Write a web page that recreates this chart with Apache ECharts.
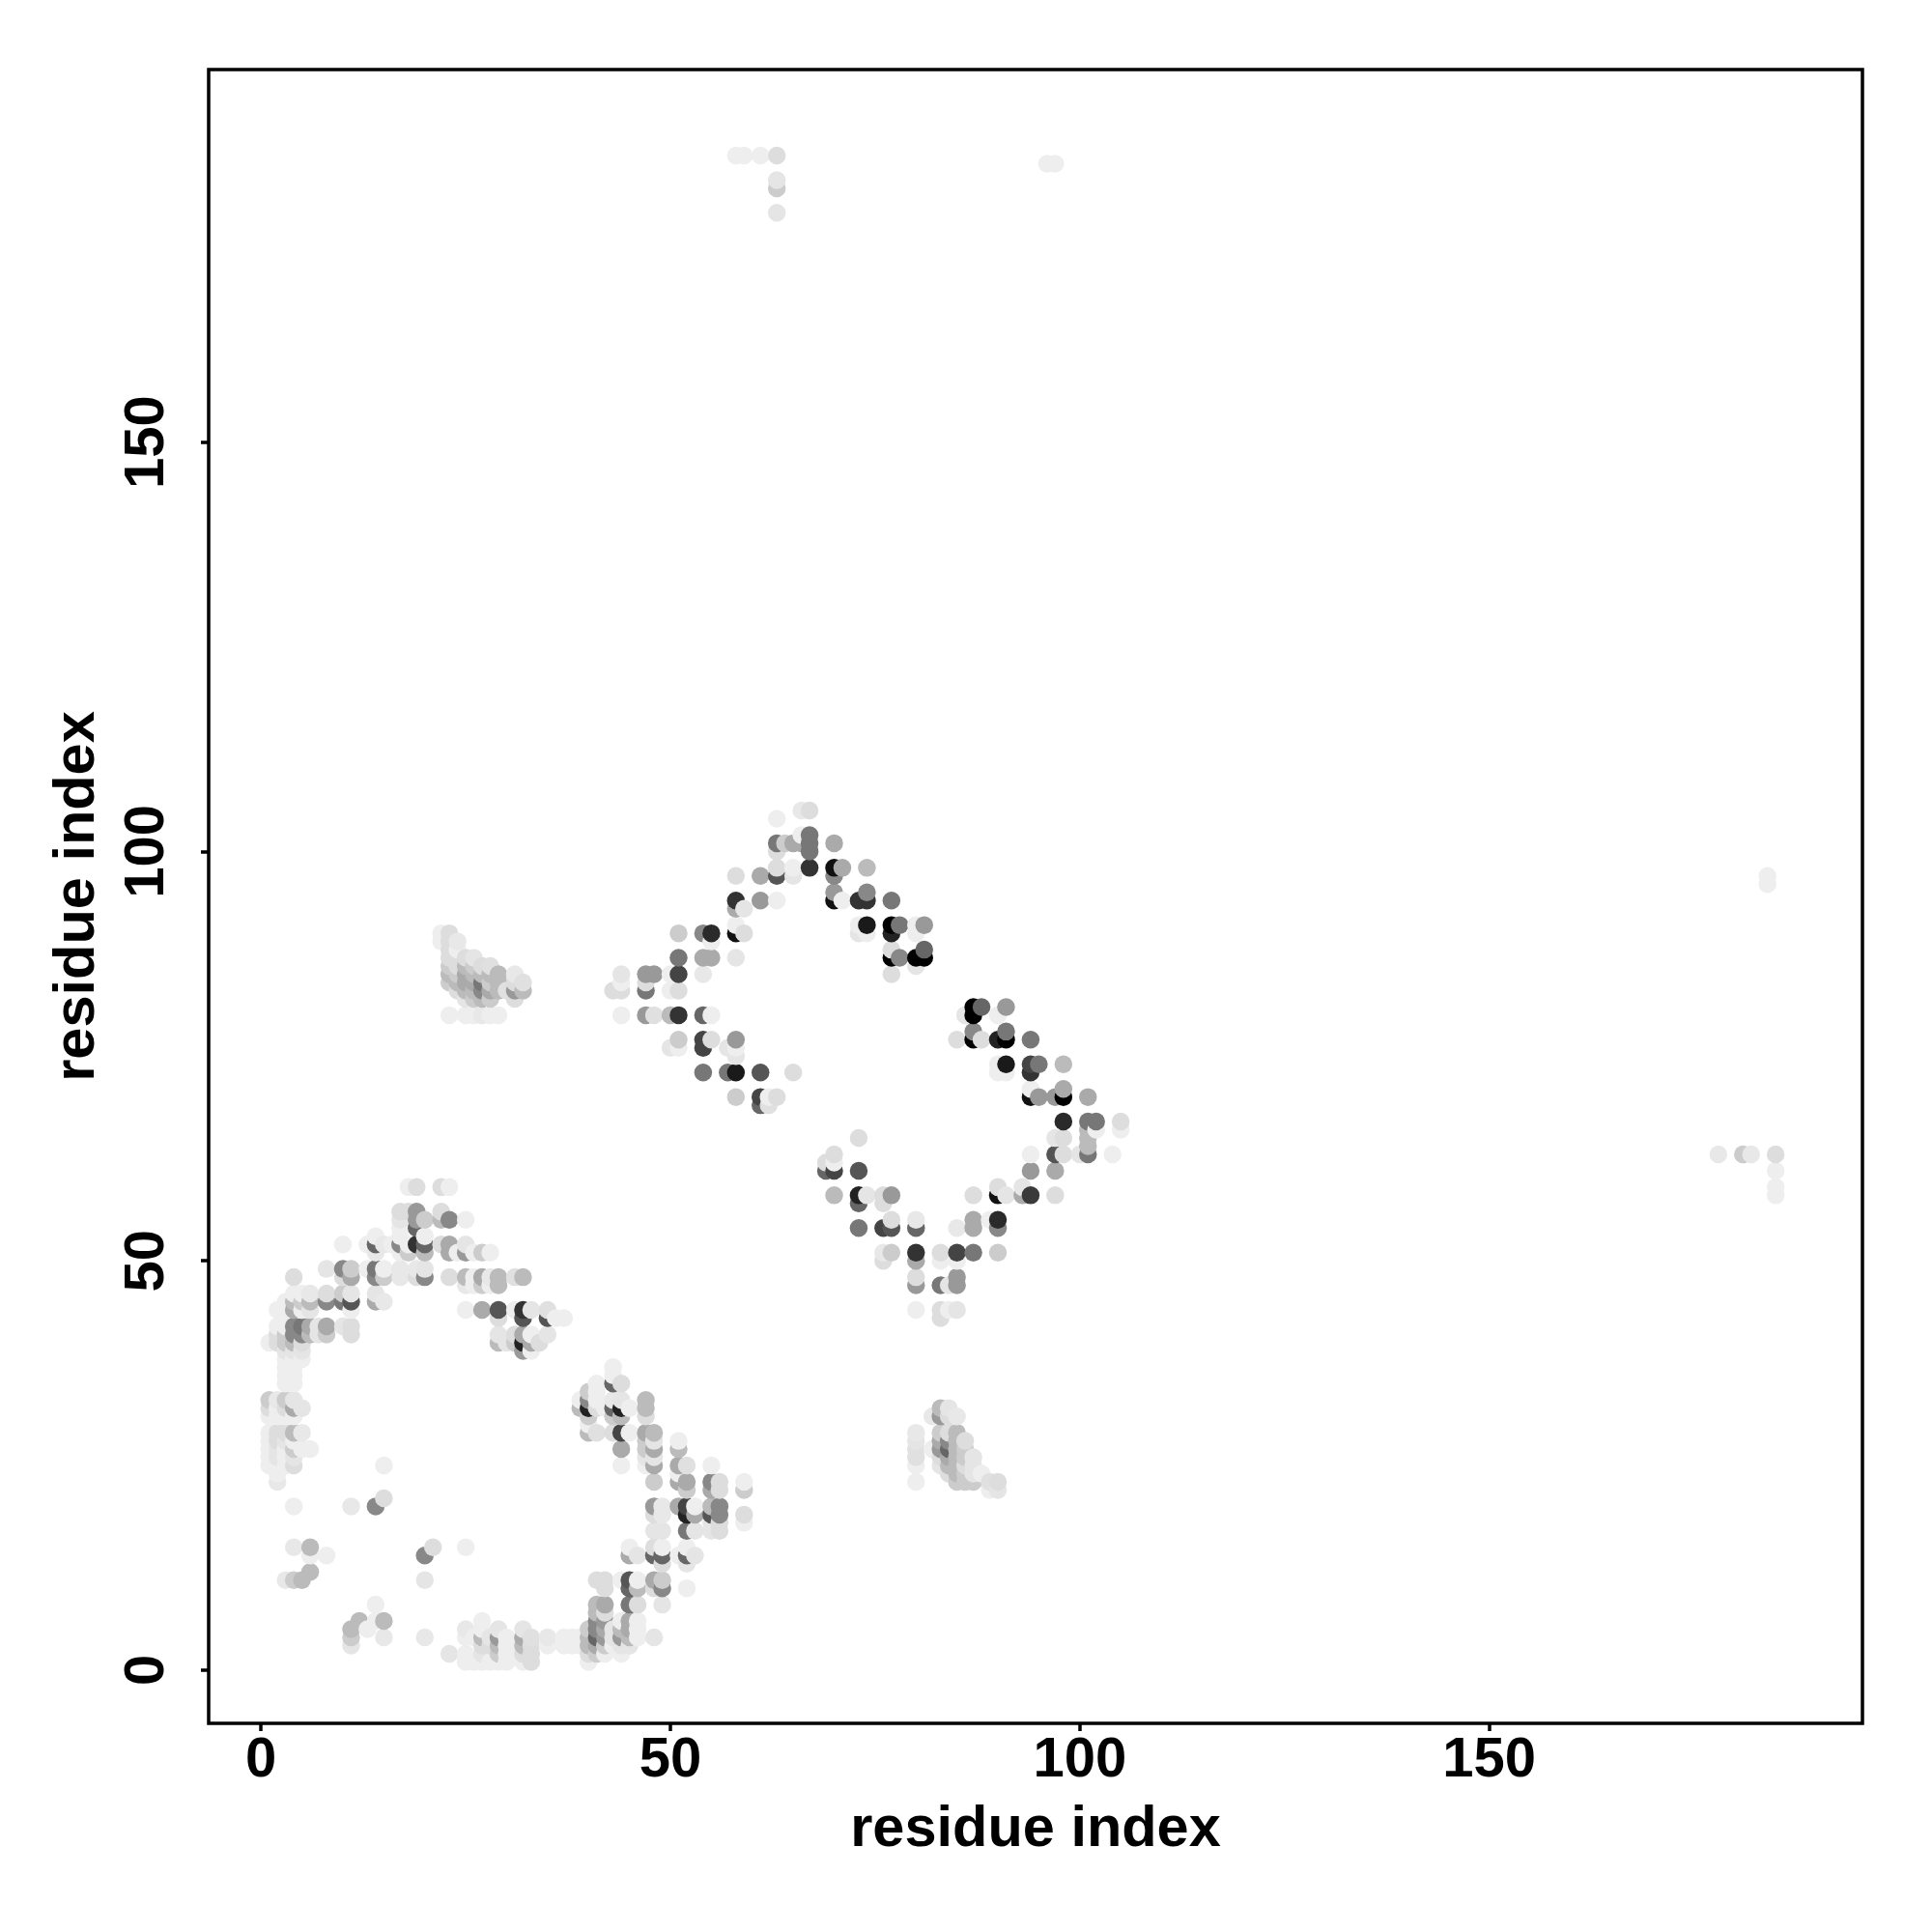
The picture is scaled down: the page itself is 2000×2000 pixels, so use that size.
<!DOCTYPE html>
<html><head><meta charset="utf-8">
<style>html,body{margin:0;padding:0;background:#fff}#c{width:2000px;height:2000px}</style>
<script src="https://cdn.jsdelivr.net/npm/echarts@6/dist/echarts.min.js"></script>
</head><body><div id="c"></div>
<script>
// each point: [residue x, residue y, grey level 0-255]
const tickValues = [0, 50, 100, 150];
const axisTitle = 'residue index';
const upperRing = [
[66,105,232],[67,105,221],[63,104,238],[67,102,119],[66,102,238],[63,101,119],[64,101,204],[65,101,170],[66,101,170],[67,101,119],[70,101,170],
[63,100,221],[67,100,119],[63,98,221],[65,98,238],[67,98,51],[70,98,17],[71,98,170],[74,98,187],[58,97,221],[61,97,170],[63,97,85],[65,97,229],[70,97,136],
[70,95,153],[74,95,136],[58,94,51],[61,94,153],[63,94,238],[70,94,17],[71,94,238],[73,94,51],[74,94,51],[77,94,119],[58,93,170],[59,93,229],
[58,91,238],[73,91,238],[74,91,26],[77,91,0],[78,91,119],[80,91,238],[81,91,153],[51,90,204],[54,90,136],[55,90,42],[58,90,17],[59,90,221],[73,90,229],[74,90,238],[77,90,34],[80,90,238],[55,89,238],
[77,88,221],[81,88,102],[51,87,119],[54,87,170],[55,87,170],[58,87,229],[77,87,0],[78,87,136],[80,87,0],[81,87,0],[80,86,229],
[44,85,229],[47,85,153],[48,85,153],[50,85,238],[51,85,68],[54,85,232],[77,85,221],[44,84,238],[47,84,221],[43,83,221],[44,83,221],[47,83,119],[50,83,238],[51,83,221],
[44,80,238],[47,80,153],[48,80,224],[50,80,187],[51,80,51],[54,80,102],[55,80,238],[51,77,204],[54,77,68],[55,77,221],[58,77,153],[50,76,229],[51,76,238],[54,76,68],[57,76,229],[58,76,238],[58,75,229],
[54,73,119],[57,73,119],[58,73,26],[61,73,85],[65,73,221],[58,70,204],[61,70,68],[62,70,238],[63,70,221],[61,69,102],[62,69,224]
];
const lowerRing = [
[87,81,0],[88,81,102],[91,81,153],[86,80,229],[87,80,0],[90,80,238],[87,78,136],[91,78,119],[85,77,221],[87,77,0],[88,77,221],[90,77,34],[91,77,0],[94,77,119],
[90,74,238],[91,74,26],[94,74,68],[95,74,119],[98,74,187],[90,73,238],[91,73,238],[94,73,51],[94,71,238],[98,71,170],[94,70,17],[95,70,153],[97,70,153],[98,70,0],[101,70,170],
[98,67,42],[101,67,119],[102,67,119],[105,67,221],[101,66,187],[102,66,238],[105,66,238],[73,65,221],[97,65,229],[98,65,221],[101,65,187],[101,64,187],
[70,63,221],[94,63,238],[97,63,85],[98,63,221],[100,63,229],[101,63,119],[104,63,238],[69,62,221],[70,62,238],[69,61,102],[70,61,68],[73,61,85],[94,61,153],[97,61,170],
[90,59,221],[93,59,229],[70,58,187],[73,58,34],[74,58,229],[76,58,221],[77,58,153],[87,58,221],[90,58,17],[91,58,229],[93,58,170],[94,58,58],[97,58,221],[73,57,102],[76,57,221],
[77,55,221],[80,55,232],[87,55,170],[89,55,238],[90,55,42],[73,54,119],[76,54,68],[77,54,85],[80,54,102],[85,54,232],[87,54,170],[90,54,136],
[76,51,232],[77,51,204],[80,51,51],[83,51,221],[85,51,68],[87,51,119],[90,51,204],[76,50,221],[80,50,170],[83,50,238],[85,50,238],
[80,48,221],[85,48,153],[80,47,153],[83,47,119],[84,47,229],[85,47,153],[80,44,238],[83,44,221],[84,44,238],[85,44,229],[83,43,221]
];
const upperPatch = [
[22,90,238],[23,90,221],[22,89,238],[23,89,221],[24,89,232],[23,88,221],[24,88,238],[23,87,221],[25,87,221],[26,87,229],
[23,86,204],[24,86,221],[25,86,187],[26,86,204],[27,86,221],[28,86,224],[23,85,187],[24,85,204],[25,85,170],[26,85,187],[27,85,187],[28,85,187],[29,85,187],[31,85,232],
[23,84,204],[24,84,187],[25,84,170],[26,84,170],[27,84,119],[28,84,204],[29,84,187],[31,84,221],[32,84,224],
[24,83,221],[25,83,187],[26,83,187],[27,83,136],[28,83,170],[29,83,187],[30,83,224],[31,83,153],[32,83,187],[25,82,229],[26,82,204],[27,82,187],[28,82,204],[31,82,221],
[23,80,238],[25,80,238],[26,80,238],[27,80,232],[28,80,238],[29,80,238]
];
const arc = [
[18,59,238],[19,59,221],[22,59,221],[23,59,238],[17,56,221],[18,56,221],[19,56,153],[22,56,221],[17,55,229],[19,55,153],[20,55,204],[22,55,187],[23,55,136],[25,55,238],[17,54,238],[19,54,102],
[14,53,238],[17,53,238],[20,53,238],[10,52,238],[13,52,238],[14,52,102],[15,52,232],[16,52,238],[17,52,136],[18,52,238],[19,52,51],[20,52,102],[22,52,221],[23,52,170],[25,52,229],
[14,51,232],[17,51,238],[18,51,204],[20,51,187],[23,51,170],[24,51,238],[25,51,153],[26,51,238],[27,51,204],[28,51,238],
[8,49,229],[10,49,136],[11,49,204],[13,49,238],[14,49,119],[15,49,238],[17,49,232],[19,49,232],[20,49,229],
[4,48,221],[10,48,221],[11,48,170],[14,48,136],[15,48,204],[17,48,232],[19,48,221],[20,48,136],[23,48,221],[25,48,187],[26,48,238],[27,48,170],[28,48,232],[29,48,187],[31,48,224],[32,48,187],
[25,47,232],[26,47,238],[27,47,204],[28,47,238],[29,47,187],[4,46,238],[5,46,238],[6,46,232],[8,46,221],[10,46,204],[11,46,229],[14,46,229],
[3,45,238],[4,45,187],[5,45,204],[6,45,187],[8,45,136],[10,45,119],[11,45,85],[14,45,170],[15,45,232],
[2,44,238],[3,44,238],[4,44,170],[5,44,238],[6,44,229],[11,44,238],[25,44,238],[27,44,170],[29,44,85],[31,44,238],[32,44,51],[33,44,229],[35,44,224],
[29,43,221],[32,43,85],[35,43,85],[36,43,238],[37,43,238],
[2,42,238],[3,42,238],[4,42,136],[5,42,119],[6,42,170],[7,42,229],[8,42,170],[10,42,229],[11,42,221],
[2,41,221],[3,41,204],[4,41,136],[5,41,136],[6,41,187],[7,41,229],[8,41,204],[11,41,221],[29,41,229],[31,41,221],[32,41,170],[33,41,238],[35,41,229],
[1,40,238],[2,40,221],[3,40,204],[4,40,187],[5,40,221],[29,40,187],[30,40,229],[31,40,204],[32,40,34],[33,40,170],[34,40,221],
[3,39,229],[4,39,229],[5,39,229],[32,39,153],[33,39,238],[3,38,238],[4,38,238],[5,38,238],[3,37,238],[4,37,238],[3,36,238],[4,36,238],[3,35,238],[4,35,238]
];
const leftColumn = [
[1,33,204],[2,33,232],[3,33,204],[4,33,229],[1,32,221],[2,32,238],[3,32,221],[4,32,170],[5,32,229],[1,31,238],[2,31,238],[3,31,238],[4,31,238],
[1,29,238],[2,29,221],[3,29,221],[4,29,187],[5,29,232],[1,28,238],[2,28,221],[3,28,229],[4,28,238],[1,27,238],[2,27,229],[3,27,238],[4,27,204],[5,27,238],[6,27,238],
[1,26,238],[2,26,229],[3,26,238],[4,26,229],[1,25,238],[2,25,238],[3,25,238],[4,25,221],[2,24,238],[2,23,232]
];
const scattered = [
[15,25,238],[15,21,221],[4,20,238],[11,20,232],[14,20,136],[4,15,232],[6,15,187],[21,15,221],[25,15,238],[6,14,238],[8,14,238],[20,14,136],[6,12,187],
[3,11,232],[4,11,204],[5,11,187],[20,11,229],[14,8,238],[12,6,187],[14,6,238],[15,6,187],[11,5,187],[13,5,238],[11,4,204],[15,4,232],[20,4,232],[11,3,229]
];
const floorRow = [
[27,6,238],[25,5,232],[27,5,238],[29,5,229],[32,5,229],[25,4,238],[26,4,238],[27,4,187],[28,4,229],[29,4,153],[30,4,238],[32,4,170],[33,4,224],[35,4,232],[37,4,238],[38,4,238],[39,4,238],
[27,3,221],[28,3,221],[29,3,187],[30,3,238],[32,3,187],[33,3,221],[35,3,238],[37,3,238],[38,3,238],[39,3,238],
[23,2,229],[25,2,238],[27,2,229],[29,2,204],[30,2,238],[32,2,221],[33,2,221],[25,1,238],[26,1,238],[27,1,238],[28,1,238],[29,1,238],[30,1,238],[32,1,238],[33,1,221]
];
const rightArc = [
[43,37,238],[43,36,238],[41,35,238],[43,35,102],[44,35,221],[40,34,204],[41,34,238],[39,33,238],[40,33,136],[41,33,238],[43,33,232],[44,33,229],[47,33,187],
[39,32,187],[40,32,34],[41,32,221],[42,32,238],[43,32,102],[44,32,34],[45,32,238],[47,32,187],[40,31,204],[43,31,204],[44,31,187],[47,31,221],[40,30,238],
[40,29,187],[41,29,224],[43,29,221],[44,29,68],[45,29,238],[47,29,170],[48,29,187],[47,28,204],[48,28,229],[51,28,238],[44,27,170],[47,27,204],[48,27,170],[51,27,187],[47,26,229],[48,26,229],
[44,25,238],[47,25,238],[48,25,170],[51,25,170],[52,25,224],[55,25,238],[51,24,238],[48,23,204],[51,23,170],[52,23,170],[55,23,136],[56,23,221],[59,23,238],[52,22,204],[55,22,170],[56,22,221],[59,22,204],
[48,20,153],[49,20,232],[51,20,170],[52,20,68],[53,20,238],[55,20,187],[56,20,136],[48,19,221],[49,19,232],[52,19,34],[53,19,170],[55,19,85],[56,19,136],[59,19,221],[55,18,229],[56,18,221],[59,18,238],
[48,17,229],[49,17,229],[52,17,119],[53,17,229],[55,17,229],[56,17,221],[45,15,238],[48,15,221],[49,15,238],[52,15,238],[45,14,170],[46,14,229],[48,14,102],[49,14,102],[51,14,238],[52,14,102],[53,14,229],[49,13,221],[52,13,229],
[41,11,221],[42,11,221],[44,11,238],[45,11,85],[46,11,238],[48,11,170],[49,11,204],[42,10,221],[45,10,102],[46,10,187],[48,10,221],[49,10,136],[52,10,238],
[41,8,187],[42,8,170],[45,8,119],[46,8,221],[49,8,229],[41,7,187],[42,7,221],[41,6,136],[42,6,153],[44,6,238],[45,6,170],[46,6,238],
[40,5,204],[41,5,136],[42,5,170],[43,5,229],[44,5,187],[45,5,170],[46,5,238],[40,4,187],[41,4,102],[42,4,153],[43,4,229],[44,4,153],[45,4,187],[46,4,238],[48,4,229],
[40,3,187],[41,3,170],[42,3,204],[43,3,238],[44,3,229],[45,3,229],[40,2,221],[41,2,204],[42,2,238],[44,2,238],[40,1,238]
];
const lowerPatch = [
[83,32,187],[84,32,229],[82,31,232],[83,31,153],[84,31,221],[85,31,232],[80,29,232],[83,29,204],[84,29,221],[85,29,187],[80,28,229],[83,28,170],[84,28,136],[85,28,187],[86,28,221],
[80,27,224],[82,27,238],[83,27,153],[84,27,102],[85,27,187],[86,27,204],[80,26,224],[83,26,221],[84,26,170],[85,26,187],[86,26,204],[87,26,229],
[80,25,238],[83,25,229],[84,25,187],[85,25,187],[86,25,221],[87,25,229],[84,24,221],[85,24,187],[86,24,204],[87,24,229],[88,24,238],
[80,23,238],[85,23,204],[86,23,204],[87,23,204],[89,23,224],[90,23,221],[89,22,238],[90,22,229]
];
const farPoints = [
[58,185,238],[59,185,238],[61,185,238],[63,185,221],[63,182,229],[63,181,204],[63,178,229],[96,184,238],[97,184,238],
[184,97,238],[184,96,238],[178,63,232],[181,63,204],[182,63,232],[185,63,221],[185,61,238],[185,59,238],[185,58,238]
];

const points = [].concat(upperRing, lowerRing, upperPatch, arc, leftColumn, scattered, floorRow, rightArc, lowerPatch, farPoints)
  .sort((a, b) => a[0] - b[0] || a[1] - b[1]);

const fontBase = {color:'#000', fontFamily:'"Liberation Sans", Arial, sans-serif', fontWeight:'bold'};
const axisCommon = {
  type:'value', name:axisTitle, nameLocation:'middle',
  nameTextStyle:Object.assign({}, fontBase, {fontSize:59.5}), splitLine:{show:false}, axisLine:{show:false, onZero:false},
  axisTick:{show:true, length:8, lineStyle:{color:'#000', width:3.5}, customValues:tickValues},
  axisLabel:Object.assign({}, fontBase, {fontSize:58, customValues:tickValues, hideOverlap:false})
};
const chart = echarts.init(document.getElementById('c'), null, {renderer:'canvas'});
chart.setOption({
  animation:false, backgroundColor:'#fff',
  grid:{left:216, top:72, width:1712, height:1712, show:true, borderColor:'#000', borderWidth:3.5, backgroundColor:'transparent'},
  xAxis:Object.assign({}, axisCommon, {min:-6.4, max:195.6, nameGap:81, axisLabel:Object.assign({}, axisCommon.axisLabel, {margin:10})}),
  yAxis:Object.assign({}, axisCommon, {min:-6.5, max:195.5, nameGap:105.5, axisLabel:Object.assign({}, axisCommon.axisLabel, {rotate:90, margin:34})}),
  series:[{type:'scatter', data:points, symbol:'circle', symbolSize:18.5, large:false, silent:true,
    itemStyle:{opacity:1, borderWidth:0, color:p => { const g = p.value[2]; return 'rgb('+g+','+g+','+g+')'; }}}]
});
</script></body></html>
